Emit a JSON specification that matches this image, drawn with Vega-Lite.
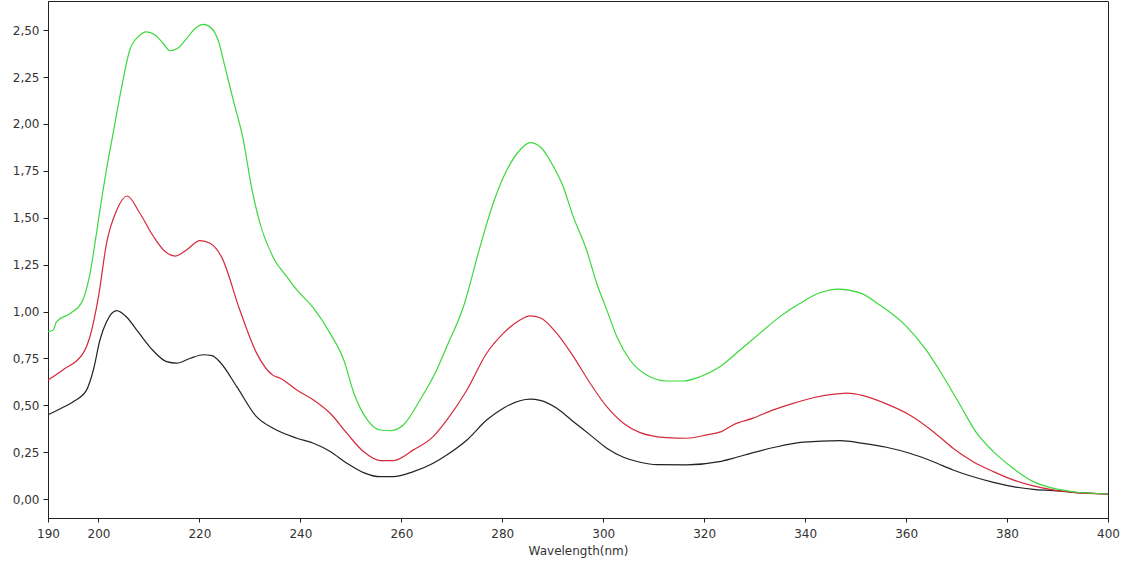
{
  "$schema": "https://vega.github.io/schema/vega-lite/v6.json",
  "width": 1060,
  "height": 517,
  "autosize": {"type": "none"},
  "padding": {"left": 48, "top": 1, "right": 24, "bottom": 49},
  "background": "white",
  "config": {
    "view": {"stroke": "#222", "strokeWidth": 1},
    "axis": {
      "labelFont": "DejaVu Sans", "labelFontSize": 12, "labelColor": "#333",
      "titleFont": "DejaVu Sans", "titleFontSize": 12, "titleColor": "#333", "titleFontWeight": "normal",
      "domainColor": "#222", "tickColor": "#222", "grid": false
    }
  },
  "datasets": {
    "black": [
      {"wl":190,"a":0.45},{"wl":193,"a":0.49},{"wl":195,"a":0.52},{"wl":197.6,"a":0.58},{"wl":199,"a":0.69},{"wl":200.3,"a":0.85},{"wl":201.6,"a":0.946},{"wl":203.6,"a":1.005},{"wl":205.6,"a":0.97},{"wl":207.9,"a":0.89},{"wl":210.9,"a":0.79},{"wl":213.5,"a":0.733},{"wl":215.5,"a":0.725},{"wl":218.1,"a":0.75},{"wl":220.8,"a":0.77},{"wl":222.5,"a":0.765},{"wl":224.1,"a":0.73},{"wl":227.4,"a":0.6},{"wl":231.3,"a":0.44},{"wl":234.6,"a":0.378},{"wl":239.3,"a":0.325},{"wl":242.6,"a":0.298},{"wl":245.9,"a":0.254},{"wl":249.2,"a":0.192},{"wl":252.5,"a":0.142},{"wl":255.8,"a":0.12},{"wl":258.4,"a":0.12},{"wl":262.4,"a":0.147},{"wl":266.3,"a":0.192},{"wl":269,"a":0.236},{"wl":273,"a":0.316},{"wl":276.9,"a":0.422},{"wl":280.2,"a":0.485},{"wl":283.5,"a":0.525},{"wl":285.5,"a":0.533},{"wl":287.5,"a":0.527},{"wl":290.8,"a":0.485},{"wl":294.1,"a":0.413},{"wl":297.4,"a":0.343},{"wl":300.7,"a":0.272},{"wl":304,"a":0.224},{"wl":307.3,"a":0.197},{"wl":310.6,"a":0.184},{"wl":316.5,"a":0.183},{"wl":323,"a":0.2},{"wl":325.7,"a":0.218},{"wl":329.9,"a":0.25},{"wl":334,"a":0.277},{"wl":339.7,"a":0.304},{"wl":346.9,"a":0.312},{"wl":351.5,"a":0.298},{"wl":356.1,"a":0.277},{"wl":360.7,"a":0.245},{"wl":365.4,"a":0.2},{"wl":369.3,"a":0.156},{"wl":373.3,"a":0.12},{"wl":377.3,"a":0.09},{"wl":381.2,"a":0.067},{"wl":385.2,"a":0.053},{"wl":389.1,"a":0.046},{"wl":393.1,"a":0.037},{"wl":400,"a":0.028}
    ],
    "red": [
      {"wl":190,"a":0.635},{"wl":193,"a":0.69},{"wl":197,"a":0.78},{"wl":198.3,"a":0.866},{"wl":200,"a":1.08},{"wl":201.6,"a":1.364},{"wl":203.6,"a":1.54},{"wl":205.7,"a":1.616},{"wl":208.2,"a":1.524},{"wl":210.9,"a":1.4},{"wl":213.2,"a":1.32},{"wl":215.2,"a":1.296},{"wl":217.5,"a":1.33},{"wl":220.1,"a":1.378},{"wl":222.1,"a":1.364},{"wl":224.4,"a":1.29},{"wl":228,"a":1.008},{"wl":231.3,"a":0.78},{"wl":234.6,"a":0.66},{"wl":236,"a":0.645},{"wl":239.3,"a":0.582},{"wl":242.6,"a":0.529},{"wl":245.9,"a":0.458},{"wl":249.2,"a":0.352},{"wl":252.5,"a":0.254},{"wl":255.8,"a":0.206},{"wl":258.4,"a":0.206},{"wl":262.4,"a":0.263},{"wl":266.3,"a":0.334},{"wl":269,"a":0.422},{"wl":273,"a":0.582},{"wl":276.9,"a":0.778},{"wl":280.2,"a":0.884},{"wl":283.5,"a":0.955},{"wl":285.5,"a":0.977},{"wl":287.5,"a":0.967},{"wl":290.8,"a":0.884},{"wl":294.1,"a":0.76},{"wl":297.4,"a":0.618},{"wl":300.7,"a":0.493},{"wl":304,"a":0.405},{"wl":307.3,"a":0.355},{"wl":312.6,"a":0.328},{"wl":316.5,"a":0.325},{"wl":320.5,"a":0.343},{"wl":323.4,"a":0.36},{"wl":325.7,"a":0.396},{"wl":329.7,"a":0.432},{"wl":333.7,"a":0.476},{"wl":337.6,"a":0.511},{"wl":341.6,"a":0.541},{"wl":346.2,"a":0.561},{"wl":348.2,"a":0.565},{"wl":351.5,"a":0.552},{"wl":356.1,"a":0.508},{"wl":360.7,"a":0.449},{"wl":365.4,"a":0.36},{"wl":369.3,"a":0.272},{"wl":373.3,"a":0.2},{"wl":377.3,"a":0.147},{"wl":381.2,"a":0.103},{"wl":385.2,"a":0.071},{"wl":389.1,"a":0.05},{"wl":393.1,"a":0.037},{"wl":400,"a":0.028}
    ],
    "green": [
      {"wl":190,"a":0.893},{"wl":191,"a":0.9},{"wl":191.7,"a":0.946},{"wl":194.4,"a":0.99},{"wl":196.7,"a":1.05},{"wl":198.3,"a":1.2},{"wl":199.6,"a":1.417},{"wl":200.6,"a":1.595},{"wl":201.6,"a":1.76},{"wl":202.9,"a":1.95},{"wl":204.6,"a":2.198},{"wl":206.2,"a":2.394},{"wl":207.9,"a":2.465},{"wl":209.5,"a":2.49},{"wl":211.2,"a":2.474},{"wl":212.8,"a":2.43},{"wl":214.2,"a":2.39},{"wl":215.5,"a":2.4},{"wl":217.5,"a":2.456},{"wl":219.2,"a":2.51},{"wl":220.8,"a":2.53},{"wl":222.4,"a":2.51},{"wl":223.7,"a":2.447},{"wl":225.1,"a":2.3},{"wl":226.7,"a":2.127},{"wl":228.7,"a":1.914},{"wl":230.3,"a":1.665},{"wl":232,"a":1.47},{"wl":234.6,"a":1.29},{"wl":237.3,"a":1.186},{"wl":239.3,"a":1.115},{"wl":242.6,"a":1.018},{"wl":245.9,"a":0.884},{"wl":248.6,"a":0.742},{"wl":250.6,"a":0.565},{"wl":253.3,"a":0.422},{"wl":255.8,"a":0.369},{"wl":257.7,"a":0.365},{"wl":260.4,"a":0.396},{"wl":263.7,"a":0.529},{"wl":267,"a":0.689},{"wl":269,"a":0.813},{"wl":272.3,"a":1.026},{"wl":275.6,"a":1.346},{"wl":278.2,"a":1.577},{"wl":280.9,"a":1.754},{"wl":283.5,"a":1.861},{"wl":285.5,"a":1.9},{"wl":287.5,"a":1.878},{"wl":290,"a":1.78},{"wl":292,"a":1.67},{"wl":294,"a":1.51},{"wl":296.7,"a":1.328},{"wl":298.7,"a":1.151},{"wl":300.7,"a":1.009},{"wl":302.7,"a":0.866},{"wl":305.3,"a":0.742},{"wl":308.6,"a":0.662},{"wl":312.6,"a":0.63},{"wl":315.9,"a":0.63},{"wl":319.2,"a":0.653},{"wl":323.1,"a":0.706},{"wl":327.1,"a":0.795},{"wl":331,"a":0.884},{"wl":335,"a":0.973},{"wl":339,"a":1.044},{"wl":342.9,"a":1.1},{"wl":346.5,"a":1.12},{"wl":350.9,"a":1.1},{"wl":354.8,"a":1.035},{"wl":360.1,"a":0.92},{"wl":364,"a":0.795},{"wl":367.4,"a":0.653},{"wl":370.7,"a":0.502},{"wl":374,"a":0.352},{"wl":377.3,"a":0.254},{"wl":381.2,"a":0.165},{"wl":385.2,"a":0.094},{"wl":389.1,"a":0.059},{"wl":393.1,"a":0.04},{"wl":400,"a":0.028}
    ]
  },
  "encoding": {
    "x": {
      "field": "wl", "type": "quantitative",
      "scale": {"domain": [190, 400], "nice": false, "zero": false},
      "axis": {"values": [190,200,220,240,260,280,300,320,340,360,380,400], "title": "Wavelength(nm)", "tickSize": 4, "labelPadding": 6, "titlePadding": 6, "labelFlush": false}
    },
    "y": {
      "field": "a", "type": "quantitative",
      "scale": {"domain": [-0.1, 2.655], "nice": false, "zero": false},
      "axis": {"values": [0,0.25,0.5,0.75,1,1.25,1.5,1.75,2,2.25,2.5], "title": null, "tickSize": 5, "labelPadding": 4, "labelExpr": "replace(format(datum.value, '.2f'), '.', ',')"}
    }
  },
  "layer": [
    {"data": {"name": "black"}, "mark": {"type": "line", "color": "#222222", "strokeWidth": 1.2, "interpolate": "monotone"}},
    {"data": {"name": "red"}, "mark": {"type": "line", "color": "#d42a3a", "strokeWidth": 1.2, "interpolate": "monotone"}},
    {"data": {"name": "green"}, "mark": {"type": "line", "color": "#3cd83c", "strokeWidth": 1.2, "interpolate": "monotone"}}
  ]
}
